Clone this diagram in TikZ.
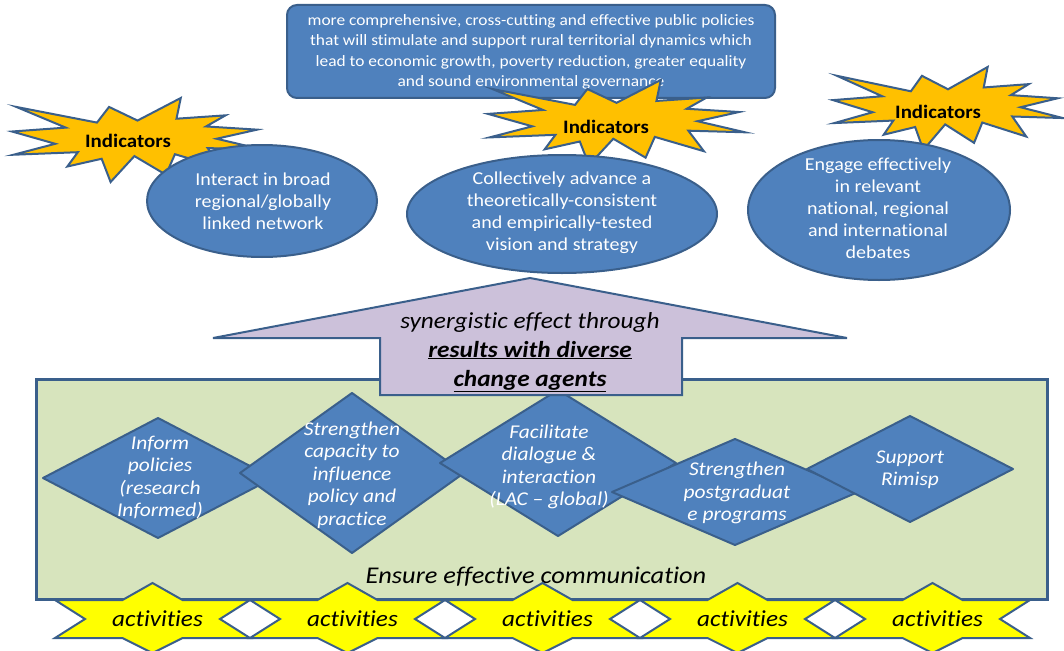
\documentclass[tikz,border=0pt]{standalone}
\usepackage{fontspec}
\setmainfont{Carlito}[FakeStretch=1.1,Ligatures=NoCommon]
\definecolor{bfill}{HTML}{4F81BD}
\definecolor{bline}{HTML}{3A5F8B}
\definecolor{sealy}{HTML}{FFC000}
\definecolor{actY}{HTML}{FFFF00}
\definecolor{grn}{HTML}{D7E4BD}
\definecolor{purp}{HTML}{CCC1DA}
\tikzset{
  blueshape/.style={fill=bfill, draw=bline, line width=2pt, line join=round},
  sealst/.style={fill=sealy, draw=bline, line width=2pt, line join=miter},
  actst/.style={fill=actY, draw=bline, line width=2pt, line join=miter},
  toptext/.style={text=white, align=center, inner sep=0pt, font=\fontsize{15.8}{20.3}\selectfont},
  elltext/.style={text=white, align=center, inner sep=0pt, font=\fontsize{18.2}{22}\selectfont},
  ditext/.style={text=white, align=center, inner sep=0pt, font=\fontsize{19.5}{22.5}\selectfont\itshape},
  indtext/.style={text=black, inner sep=0pt, font=\fontsize{19}{20}\selectfont\bfseries},
  acttext/.style={text=black, inner sep=0pt, font=\fontsize{22.9}{24}\selectfont\itshape},
  commtext/.style={text=black, inner sep=0pt, font=\fontsize{24}{26}\selectfont\itshape},
  arrtext/.style={text=black, align=center, inner sep=0pt, font=\fontsize{23}{29}\selectfont\itshape},
}
\newcommand\sealshape[4]{%
  \draw[sealst, shift={(#1,#2)}, xscale=#3/21.6, yscale=#4/21.6]
    (10.8,5.8) -- (14.522,0) -- (14.155,5.325) -- (18.38,4.457) -- (16.702,7.315)
    -- (21.097,8.137) -- (17.607,10.475) -- (21.6,13.29) -- (16.837,12.877)
    -- (18.145,18.095) -- (14.02,14.457) -- (13.247,19.737) -- (10.532,14.935)
    -- (8.485,21.6) -- (7.715,15.627) -- (4.762,17.617) -- (5.667,13.937)
    -- (0.135,14.587) -- (3.722,11.775) -- (0,8.615) -- (4.627,7.617)
    -- (0.37,2.295) -- (7.312,6.32) -- (8.352,2.295) -- cycle;}
\newcommand\diashape[4]{%
  \draw[blueshape] (#1-#3,#2) -- (#1,#2-#4) -- (#1+#3,#2) -- (#1,#2+#4) -- cycle;}
\newcommand\actshape[1]{%
  \draw[actst] (#1,600) -- (#1+67.5,600) -- (#1+97.5,583) -- (#1+127.5,600) -- (#1+195,600)
    -- (#1+165,619) -- (#1+195,638) -- (#1+127.5,638) -- (#1+97.5,653) -- (#1+67.5,638)
    -- (#1,638) -- (#1+30,619) -- cycle;}
\begin{document}
\begin{tikzpicture}[x=1pt,y=-1pt]
\useasboundingbox (0,0) rectangle (1064,650);
% top box
\draw[blueshape, rounded corners=10pt] (287,5) rectangle (775,98);
\node[toptext] (goal) at (531,52) {more comprehensive, cross-cutting and effective public policies\\
that will stimulate and support rural territorial dynamics which\\
lead to economic growth, poverty reduction, greater equality\\
and sound environmental governance};
% stars
\sealshape{12}{98}{251}{84}
\sealshape{488}{80}{257}{85}
\sealshape{833}{67}{230}{83}
\node[indtext] (ind1) at (128,141) {Indicators};
\node[indtext] (ind2) at (606,127) {Indicators};
\node[indtext] (ind3) at (938,112) {Indicators};
% ellipses
\draw[blueshape] (262,201) ellipse [x radius=115pt, y radius=56pt];
\draw[blueshape] (562,214) ellipse [x radius=155pt, y radius=59pt];
\draw[blueshape] (879,210) ellipse [x radius=131pt, y radius=70pt];
\node[elltext] (e1) at (263,201) {Interact in broad\\regional/globally\\linked network};
\node[elltext] (e2) at (562,213) {Collectively advance a\\theoretically-consistent\\and empirically-tested\\vision and strategy};
\node[elltext] (e3) at (878,208.5) {Engage effectively\\in relevant\\national, regional\\and international\\debates};
% green box
\draw[fill=grn, draw=bline, line width=3pt] (36,379) rectangle (1047,599);
% diamonds
\diashape{158}{478}{115}{60}
\diashape{352}{473}{112}{80}
\diashape{558}{463}{118}{73}
\diashape{735}{492}{123}{53}
\diashape{910}{469}{103}{53}
\node[ditext] (d1) at (160,477.5) {Inform\\policies\\(research\\Informed)};
\node[ditext] (d2) at (352,475) {Strengthen\\capacity to\\influence\\policy and\\practice};
\node[ditext] (d3) at (549,467) {Facilitate\\dialogue \&\\interaction\\(LAC -- global)};
\node[ditext] (d4) at (737,493) {Strengthen\\postgraduat\\e programs};
\node[ditext] (d5) at (910,469.5) {Support\\Rimisp};
% arrow
\draw[fill=purp, draw=bline, line width=2pt, line join=miter] (530,278) -- (847,338) -- (682,338) -- (682,395) -- (380,395) -- (380,338) -- (213,338) -- cycle;
\node[arrtext] (syn) at (530,352) {synergistic effect through\\\textbf{\underline{results with diverse}}\\\textbf{\underline{change agents}}};
\node[commtext] (comm) at (536,577) {Ensure effective communication};
% activities
\actshape{55}
\actshape{250}
\actshape{445}
\actshape{640}
\actshape{835}
\node[acttext] (a1) at (157.5,619) {activities};
\node[acttext] (a2) at (352.5,619) {activities};
\node[acttext] (a3) at (547.5,619) {activities};
\node[acttext] (a4) at (742.5,619) {activities};
\node[acttext] (a5) at (937.5,619) {activities};
\end{tikzpicture}
\end{document}
